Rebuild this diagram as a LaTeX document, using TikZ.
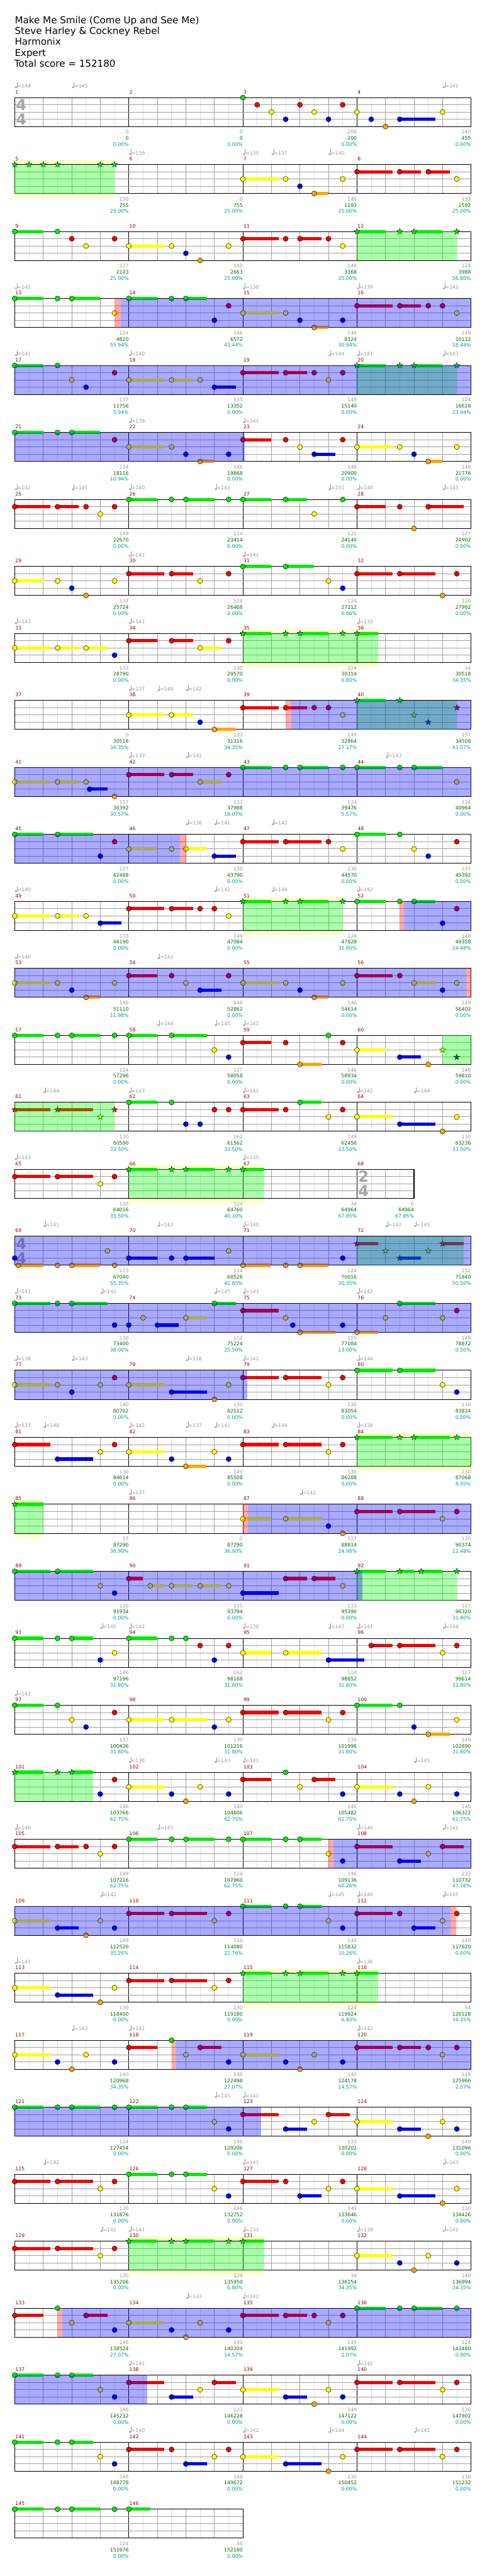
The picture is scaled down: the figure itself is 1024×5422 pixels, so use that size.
\documentclass[tikz,border=0pt]{standalone}
\usepackage{fontspec}
\setmainfont{DejaVu Sans}
\usetikzlibrary{shapes.geometric}
\definecolor{lc0}{RGB}{0,235,0}
\definecolor{lc1}{RGB}{240,0,0}
\definecolor{lc2}{RGB}{255,255,0}
\definecolor{lc3}{RGB}{0,0,240}
\definecolor{lc4}{RGB}{255,165,0}
\definecolor{tgrey}{RGB}{150,150,150}
\definecolor{tgreen}{RGB}{0,100,0}
\definecolor{tteal}{RGB}{0,150,150}
\definecolor{mred}{RGB}{140,0,0}
\definecolor{lgrid}{RGB}{225,225,225}
\definecolor{bgrid}{RGB}{160,160,160}
\definecolor{spyel}{RGB}{255,255,204}
\definecolor{tsg}{RGB}{165,165,165}
\tikzset{
 rowat/.style={shift={(31,{205.3+141*(#1-1)})},x=22.5pt},
 small/.style={inner sep=0pt,font=\fontsize{7.7pt}{8pt}\selectfont},
 mnum/.style={small,anchor=base west,text=mred},
 lgrey/.style={small,anchor=base east,text=tgrey},
 lgreen/.style={small,anchor=base east,text=tgreen},
 lteal/.style={small,anchor=base east,text=tteal},
 tempo/.style={small,anchor=base west,text=tgrey},
 tsig/.style={inner sep=0pt,font=\fontsize{24pt}{24pt}\selectfont\bfseries,text=tsg},
 title/.style={inner sep=0pt,anchor=base west,font=\fontsize{15pt}{18pt}\selectfont},
 starnote/.style={star,star points=5,star point ratio=2.4,inner sep=0pt,minimum size=9.8pt,draw=black,line width=0.4pt},
}
\newcommand\YB[2]{\fill[spyel] (#1,-10) rectangle (#2,71);}
\newcommand\SP[2]{\fill[green,opacity=0.333] (#1,0) rectangle (#2,61);}
\newcommand\OD[2]{\fill[blue,opacity=0.333] (#1,0) rectangle (#2,61);}
\newcommand\RM[2]{\fill[red,opacity=0.333] (#1,0) rectangle (#2,61);}
\newcommand\Staff[1]{%
  \fill[white] (0,0) rectangle (#1,61);
  \pgfmathtruncatemacro\nlast{#1-1}%
  \foreach \vi in {1,...,\nlast}{%
    \pgfmathtruncatemacro\rr{mod(\vi,8)}%
    \ifnum\rr=0 \draw[black,line width=0.5pt] (\vi,0) -- (\vi,61);%
    \else\ifodd\vi \draw[lgrid,line width=0.5pt] (\vi,0) -- (\vi,61);%
    \else \draw[bgrid,line width=0.6pt] (\vi,0) -- (\vi,61);\fi\fi}%
  \foreach \yy in {15.25,30.5,45.75}{\draw[bgrid,line width=0.9pt] (0,\yy) -- (#1,\yy);}%
  \draw[black,line width=1pt] (0,0) rectangle (#1,61);%
}
\newcommand\TS[3]{\node[tsig] at ([xshift=10.4pt]#1,15.3) {#2};\node[tsig] at ([xshift=10.4pt]#1,46) {#3};}
\newcommand\NoteDraw[4]{%
  \pgfmathsetmacro\ly{#2==4 ? 61 : #2*15.25}%
  \ifdim #3pt>#1pt \fill[lc#2] (#1,\ly-3.4) rectangle (#3,\ly+3.4);\fi
  \if n#4 \filldraw[fill=lc#2,draw=black,line width=0.45pt] (#1,\ly) circle[radius=4pt];%
  \else \node[starnote,fill=lc#2] at (#1,\ly) {};\fi}
\newcommand\Notes[1]{\foreach \nP/\nL/\nE in {#1}{\NoteDraw{\nP}{\nL}{\nE}{n}}}
\newcommand\Stars[1]{\foreach \nP/\nL/\nE in {#1}{\NoteDraw{\nP}{\nL}{\nE}{s}}}
\newcommand\Tempos[1]{\foreach \tP/\tV in {#1}{%
  \fill[tgrey] ([xshift=1.9pt]\tP,-21.5) ellipse[x radius=1.9pt,y radius=1.4pt];
  \draw[tgrey,line width=0.5pt] ([xshift=3.6pt]\tP,-21.5) -- ([xshift=3.6pt]\tP,-32);
  \node[tempo] at ([xshift=4pt]\tP,-20.5) {=\tV};}}
\newcommand\LabelOne[6]{%
  \node[mnum] at ([xshift=0.8pt]#1,-8) {#3};
  \node[lgrey] at (#2,76.5) {#4};
  \node[lgreen] at (#2,89.3) {#5};
  \node[lteal] at (#2,102.3) {#6\%};}
\newcommand\Labels[2]{\foreach \lG/\lS/\lQ [count=\lj from 0] in {#2}{%
  \pgfmathtruncatemacro\mn{#1+\lj}\pgfmathtruncatemacro\xa{8*\lj}\pgfmathtruncatemacro\xb{8*\lj+8}%
  \LabelOne{\xa}{\xb}{\mn}{\lG}{\lS}{\lQ}}}
\begin{document}
\begin{tikzpicture}[x=0.75pt,y=-0.75pt]
\fill[white] (0,0) rectangle (1024,5422);
\useasboundingbox (0,0) rectangle (1024,5422);
\node[title] (t1) at (31,49.3) {Make Me Smile (Come Up and See Me)};
\node[title] (t2) at (31,72.3) {Steve Harley \& Cockney Rebel};
\node[title] (t3) at (31,95.3) {Harmonix};
\node[title] (t4) at (31,118.3) {Expert};
\node[title] (t5) at (30,141.3) {Total score = 152180};
% row 1
\begin{scope}[rowat=1]
\Staff{32}\TS{0}{4}{4}
\Notes{16/0/0,17/1/0,18/2/0,19/3/0,20/1/0,21/2/0,22/3/0,23/1/0,24/2/0,25/3/0,26/4/0,27/3/29.5,30/2/0}
\Tempos{0/148,4/145,30/141}
\Labels{1}{0/0/0.00,0/0/0.00,200/200/0.00,140/455/0.00}
\end{scope}
% row 2
\begin{scope}[rowat=2]
\YB{0}{7}\Staff{32}
\Stars{0/0/0,1/0/0,2/0/0,3/0/0,6/0/0,7/0/0}
\Notes{16/2/18.5,19/2/0,20/3/0,21/4/22,23/2/0,24/1/26.5,27/1/28.5,29/1/30.5,31/2/0}
\SP{0}{7}
\Tempos{8/139,16/135,18/137,22/140}
\Labels{5}{150/755/25.00,0/755/25.00,146/1193/25.00,133/1592/25.00}
\end{scope}
% row 3
\begin{scope}[rowat=3]
\Staff{32}
\Notes{0/0/2,3/0/0,4/1/0,5/2/0,7/1/0,8/2/10.5,11/2/0,12/3/0,13/4/0,15/2/0,16/1/18.5,19/1/0,20/1/21.5,22/1/0,23/2/0}
\Stars{24/0/26,27/0/0,28/0/30,31/0/0}
\SP{24}{31}
\Labels{9}{137/2103/25.00,140/2663/25.00,149/3368/25.00,124/3988/56.80}
\end{scope}
% row 4
\begin{scope}[rowat=4]
\Staff{32}
\Notes{0/0/2,3/0/0,4/0/6,7/2/0,8/0/10,11/0/0,12/0/13.5,14/3/0,15/1/0,16/2/18.5,19/2/0,20/3/0,21/4/22,23/3/0,24/1/26.5,27/1/28.5,29/1/0,30/1/0,31/2/0}
\RM{7}{7.45}\OD{7.45}{32}
\Tempos{0/142,16/138,24/139,30/142}
\Labels{13}{124/4820/55.94,146/6572/43.44,146/8324/30.94,149/10112/18.44}
\end{scope}
% row 5
\begin{scope}[rowat=5]
\Staff{32}
\Notes{0/0/2,3/0/0,4/2/0,5/3/0,7/1/0,8/2/10.5,11/2/12.5,13/2/0,14/3/15.5,16/1/18.5,19/1/20.5,21/1/0,22/2/0,23/1/0}
\Stars{24/0/26,27/0/0,28/0/30,31/0/0}
\SP{24}{31}\OD{0}{32}
\Tempos{0/141,8/140,22/144,24/141,30/143}
\Labels{17}{137/11756/5.94,133/13352/0.00,149/15140/0.00,124/16628/23.44}
\end{scope}
% row 6
\begin{scope}[rowat=6]
\Staff{32}
\Notes{0/0/2,3/0/0,4/0/6,7/1/0,8/2/10.5,11/2/0,12/3/0,13/4/14,15/3/0,16/1/18,19/1/0,20/2/0,21/3/22.5,23/1/0,24/2/26.5,27/2/0,28/3/0,29/4/30,31/2/0}
\OD{0}{16.15}
\Tempos{8/139,16/141}
\Labels{21}{124/18116/10.94,146/19868/0.00,146/20900/0.00,146/21776/0.00}
\end{scope}
% row 7
\begin{scope}[rowat=7]
\Staff{32}
\Notes{0/1/2.5,3/1/4.5,5/1/0,6/2/0,7/1/0,8/0/10,11/0/0,12/0/14,15/0/0,16/0/18,19/0/20.5,21/2/0,23/0/0,24/1/26,27/1/0,28/4/0,29/1/31.5}
\Tempos{0/142,4/145,8/140,14/141,22/151,24/140,30/143}
\Labels{25}{149/22670/0.00,124/23414/0.00,121/24140/0.00,127/24902/0.00}
\end{scope}
% row 8
\begin{scope}[rowat=8]
\Staff{32}
\Notes{0/2/2,3/2/0,4/3/0,5/4/0,7/2/0,8/1/10.5,11/1/12.5,13/2/0,15/1/0,16/0/18,19/0/21,22/2/0,23/3/0,24/1/26.5,27/1/29.5,30/4/0,31/1/0}
\Tempos{8/142,16/141}
\Labels{29}{137/25724/0.00,124/26468/0.00,124/27212/0.00,130/27992/0.00}
\end{scope}
% row 9
\begin{scope}[rowat=9]
\YB{16}{25.5}\Staff{32}
\Notes{0/2/2.5,3/2/4.5,5/2/6.5,7/3/0,8/1/10,11/1/12.5,13/2/14.5,15/1/0}
\Stars{16/0/18,19/0/0,20/0/22,23/0/0,24/0/25.5}
\SP{16}{25.5}
\Tempos{0/143,8/141,24/133}
\Labels{33}{133/28790/0.00,130/29570/0.00,124/30314/6.80,34/30518/34.35}
\end{scope}
% row 10
\begin{scope}[rowat=10]
\Staff{32}
\Notes{8/2/10.5,11/2/12.5,13/3/0,14/4/15.5,16/1/18.5,19/1/20.5,21/1/0,22/1/0,23/2/0}
\Stars{24/0/26,27/0/0,28/2/0,29/3/0,31/1/0}
\SP{24}{31}\RM{19}{19.4}\OD{19.4}{32}
\Tempos{8/137,10/140,12/142}
\Labels{37}{0/30518/34.35,133/31316/34.35,149/32864/27.17,137/34508/43.07}
\end{scope}
% row 11
\begin{scope}[rowat=11]
\Staff{32}
\Notes{0/2/2.5,3/2/4.5,5/2/0,5.25/3/6.5,7/4/0,8/1/10.5,11/1/12.5,13/2/14.5,15/1/0,16/0/18,19/0/0,20/0/22,23/0/0,24/0/26,27/0/0,28/0/30,31/2/0}
\OD{0}{32}
\Tempos{8/139,12/141,26/143}
\Labels{41}{157/36392/30.57,133/37988/18.07,124/39476/5.57,124/40964/0.00}
\end{scope}
% row 12
\begin{scope}[rowat=12]
\Staff{32}
\Notes{0/0/2,3/0/5.5,6/3/0,7/1/0,8/2/10,11/2/0,12/2/13.5,14/3/15.5,16/1/18.5,19/1/21.5,22/1/0,23/2/0,24/0/26,27/0/0,28/2/0,29/3/0,31/1/0}
\OD{0}{11.58}\RM{11.58}{12.02}
\Tempos{12/138,14/141,18/142}
\Labels{45}{127/42488/0.00,130/43790/0.00,130/44570/0.00,137/45392/0.00}
\end{scope}
% row 13
\begin{scope}[rowat=13]
\YB{16}{23}\Staff{32}
\Notes{0/2/2.5,3/2/4.5,5/2/0,6/3/7.5,8/1/10.5,11/1/12.5,13/1/0,14/1/0,15/2/0,24/0/26,27/0/0,28/0/29.5,30/3/0,31/1/0}
\Stars{16/0/18,19/0/0,20/0/22,23/0/0}
\SP{16}{23}\RM{27}{27.3}\OD{27.3}{32}
\Tempos{0/140,14/142,18/144,24/142}
\Labels{49}{133/46190/0.00,149/47084/0.00,124/47828/31.80,146/49358/24.48}
\end{scope}
% row 14
\begin{scope}[rowat=14]
\Staff{32}
\Notes{0/2/2.5,3/2/0,4/3/0,5/4/6,7/2/0,8/1/10,11/1/0,12/2/0,13/3/14.5,15/1/0,16/2/18.5,19/2/0,20/3/0,21/4/22,23/2/0,24/1/26.5,27/1/0,28/2/29.5,30/3/0,31/2/0}
\OD{0}{31.65}\RM{31.65}{32}
\Tempos{0/140,10/142}
\Labels{53}{146/51110/11.98,146/52862/0.00,146/54614/0.00,149/56402/0.00}
\end{scope}
% row 15
\begin{scope}[rowat=15]
\Staff{32}
\Notes{0/0/2,3/0/0,4/0/6,7/0/0,8/0/10,11/0/13.5,14/2/0,15/3/0,16/1/18,19/1/0,20/4/21.5,22/0/0,23/1/0,24/2/26,27/3/28.5,29/4/0}
\Stars{30/2/0,31/3/0}
\SP{30}{32}
\Tempos{10/144,14/145,16/142}
\Labels{57}{124/57296/0.00,127/58058/0.00,146/58934/0.00,146/59810/0.00}
\end{scope}
% row 16
\begin{scope}[rowat=16]
\Staff{32}
\Stars{0/1/2.5,3/1/5.5,6/2/0,7/1/0}
\Notes{8/0/10,11/0/0,12/3/0,13/3/0,14/1/0,15/1/0,16/1/18.5,19/1/0,20/0/21.5,22/2/0,23/1/0,24/2/26.5,27/3/29.5,30/4/0,31/2/0}
\SP{0}{7}
\Tempos{2/144,8/143,16/141,24/142,28/144}
\Labels{61}{130/60590/33.50,162/61562/33.50,149/62456/33.50,130/63236/33.50}
\end{scope}
% row 17
\begin{scope}[rowat=17]
\YB{8}{17.5}\Staff{28}\TS{24}{2}{4}
\Notes{0/1/2.5,3/1/5.5,6/2/0,7/1/0}
\Stars{8/0/10,11/0/0,12/0/14,15/0/0,16/0/17.5}
\SP{8}{17.5}
\Tempos{0/143,16/135}
\Labels{65}{130/64016/33.50,124/64760/40.30,34/64964/67.85}
\LabelOne{24}{28}{68}{0}{64964}{67.85}
\end{scope}
% row 18
\begin{scope}[rowat=18]
\Staff{32}\TS{0}{4}{4}
\Notes{0/3/0,0.25/4/2,3/4/0,4/4/6,6.5/2/0,7/4/0,8/3/10,11/3/0,12/3/14,15/2/0,16/4/18,19/4/0,20/4/22,23/3/0}
\Stars{24/1/25.5,26/2/0,27/3/28.5,29/2/0,30/1/31.5}
\SP{24}{31.5}\OD{0}{32}
\Tempos{2/141,10/143,16/140,26/142,28/145}
\Labels{69}{173/67040/55.35,124/68528/42.85,124/70016/30.35,152/71840/50.50}
\end{scope}
% row 19
\begin{scope}[rowat=19]
\Staff{32}
\Notes{0/0/2.5,3/0/0,4/0/6.5,7/3/0,8/3/0,9/2/0,10/3/11.5,12/2/13.5,14/0/15.5,16/1/18.5,19/2/0,19.5/3/0,20/4/22.5,23/3/0,24/4/25.5,26/2/0,27/0/29.5,30/2/0,31/1/0}
\OD{0}{32}
\Tempos{0/141,6/142,14/145,16/143,24/142}
\Labels{73}{130/73400/38.00,152/75224/25.50,155/77084/13.00,149/78872/0.50}
\end{scope}
% row 20
\begin{scope}[rowat=20]
\Staff{32}
\Notes{0/2/2.5,3/2/0,4/3/0,6/2/0,7/1/0,8/2/10.5,11/3/13.5,14/4/0,15/2/0,16/1/18.5,19/1/21.5,22/2/0,23/1/0,24/0/26.5,27/0/29.5,30/2/0,31/3/0}
\OD{0}{16.3}
\Tempos{0/138,4/143,12/138,16/142,24/144}
\Labels{77}{140/80702/0.00,130/82112/0.00,130/83054/0.00,130/83834/0.00}
\end{scope}
% row 21
\begin{scope}[rowat=21]
\YB{24}{32}\Staff{32}
\Notes{0/1/2.5,3/3/5.5,6/2/0,7/1/0,8/2/10.5,11/3/0,12/4/13.5,14/2/0,15/3/0,16/1/18.5,19/1/21.5,22/2/0,23/1/0}
\Stars{24/0/26.5,27/0/0,28/0/30.5,31/0/0}
\SP{24}{32}
\Tempos{0/133,2/148,8/142,12/137,14/141,18/144,24/138}
\Labels{81}{130/84614/0.00,149/85508/0.00,130/86288/0.00,130/87068/8.50}
\end{scope}
% row 22
\begin{scope}[rowat=22]
\YB{0}{2}\Staff{32}
\Stars{0/0/2}
\Notes{16/2/18,19/2/21.5,22/3/0,23/4/0,24/1/26.5,27/1/29.5,30/2/0,31/1/0}
\SP{0}{2}\RM{16}{16.33}\OD{16.33}{32}
\Tempos{8/137,20/141}
\Labels{85}{37/87290/36.90,0/87290/36.90,127/88814/24.98,130/90374/12.48}
\end{scope}
% row 23
\begin{scope}[rowat=23]
\Staff{32}
\Notes{0/0/2.5,3/0/5.5,6/2/0,7/3/0,8/1/9,9.5/2/10.5,11/2/12.5,13/2/14.5,15/2/0,16/3/18.5,19/1/20.5,21/1/22.5,23/2/0}
\Stars{24/0/26,27/0/28,28.5/0/30,31/0/0}
\SP{24}{31}\OD{0}{24.4}
\Labels{89}{130/91934/0.00,155/93794/0.00,133/95390/0.00,127/96320/31.80}
\end{scope}
% row 24
\begin{scope}[rowat=24]
\Staff{32}
\Notes{0/0/2,3/0/0,4/0/5.5,6/3/0,7/2/0,8/0/10,11/0/0,12/0/0,13/1/0,14/3/0,15/1/0,16/2/18,19/2/21.5,22/3/24.5,25/1/26.5,27/1/29.5,30/2/0,31/1/0}
\Tempos{6/145,8/142,16/138,22/147,24/141,30/144}
\Labels{93}{146/97196/31.80,162/98168/31.80,114/98852/31.80,127/99614/31.80}
\end{scope}
% row 25
\begin{scope}[rowat=25]
\Staff{32}
\Notes{0/0/2,3/0/0,4/2/0,5/3/0,7/1/0,8/2/10.5,11/2/13.5,14/3/0,15/2/0,16/1/18.5,19/1/21.5,22/2/0,23/1/0,24/0/26.5,27/0/0,28/3/0,29/4/30.5,31/2/0}
\Tempos{0/142}
\Labels{97}{137/100436/31.80,130/101216/31.80,130/101996/31.80,149/102890/31.80}
\end{scope}
% row 26
\begin{scope}[rowat=26]
\Staff{32}
\Stars{0/0/2,3/0/0,4/0/5.5}
\Notes{6/3/0,7/1/0,8/2/10.5,11/3/0,12/4/0,13/2/0,15/3/0,16/1/18,19/0/0,20/2/0,21/1/22.5,23/3/0,24/2/26.5,27/3/0,28/4/0,29/2/0,31/3/0}
\SP{0}{5.5}
\Tempos{8/138,14/143,16/141,28/145}
\Labels{101}{146/103766/62.75,140/104606/62.75,146/105482/62.75,140/106322/62.75}
\end{scope}
% row 27
\begin{scope}[rowat=27]
\Staff{32}
\Notes{0/1/2.5,3/1/4.5,5/1/0,6/2/0,7/1/0,8/0/10,11/0/0,12/0/14,15/0/0,16/0/18,19/0/0,20/0/21.5,22/2/0,23/3/0,24/1/26.5,27/3/28.5,29/2/0,30/1/31.5}
\RM{22}{22.37}\OD{22.37}{32}
\Tempos{0/140,10/143,24/140,30/141}
\Labels{105}{149/107216/62.75,124/107960/62.75,146/109136/60.26,133/110732/47.76}
\end{scope}
% row 28
\begin{scope}[rowat=28]
\Staff{32}
\Notes{0/2/2.5,3/3/4.5,5/4/0,6/2/0,7/3/0,8/1/10.5,11/1/13.5,14/2/0,15/1/0,16/0/18,19/0/0,20/0/21.5,22/2/0,23/3/0,24/1/26.5,27/1/0,28/3/29.5,30/2/0,31/1/0}
\OD{0}{30.56}\RM{30.56}{30.95}
\Tempos{6/142,22/145,24/140,30/145}
\Labels{109}{149/112520/35.26,130/114080/22.76,146/115832/10.26,149/117620/0.00}
\end{scope}
% row 29
\begin{scope}[rowat=29]
\YB{16}{25.5}\Staff{32}
\Notes{0/2/2.5,3/3/5.5,6/4/0,7/2/0,8/1/10.5,11/1/13.5,14/2/0,15/1/0}
\Stars{16/0/18,19/0/0,20/0/22,23/0/0,24/0/25.5}
\SP{16}{25.5}
\Tempos{0/141,24/136}
\Labels{113}{130/118400/0.00,130/119180/0.00,124/119924/6.80,34/120128/34.35}
\end{scope}
% row 30
\begin{scope}[rowat=30]
\Staff{32}
\Notes{0/2/2.5,3/3/0,4/4/0,5/2/0,7/3/0,8/1/10,11/0/0,12/2/0,13/1/14.5,15/3/0,16/2/18.5,19/3/0,20/4/0,21/2/0,23/3/0,24/1/26.5,27/1/28.5,29/1/0,30/2/0,31/1/0}
\RM{11}{11.33}\OD{11.33}{32}
\Tempos{4/143,8/141,24/142}
\Labels{117}{140/120968/34.35,146/122498/27.07,140/124178/14.57,149/125966/2.07}
\end{scope}
% row 31
\begin{scope}[rowat=31]
\Staff{32}
\Notes{0/0/2,3/0/0,4/0/6,7/0/0,8/0/10,11/0/0,12/0/13.5,14/2/0,15/3/0,16/1/18.5,19/3/20.5,21/2/0,22/1/23.5,24/2/26.5,27/3/28.5,29/4/0,30/2/0,31/3/0}
\OD{0}{17.28}
\Tempos{14/145,16/141}
\Labels{121}{124/127454/0.00,146/129206/0.00,133/130202/0.00,149/131096/0.00}
\end{scope}
% row 32
\begin{scope}[rowat=32]
\Staff{32}
\Notes{0/1/2.5,3/1/5.5,6/2/0,7/1/0,8/0/10,11/0/0,12/0/13.5,14/2/0,15/3/0,16/1/18.5,19/1/0,20/3/21.5,22/2/0,23/1/0,24/2/26.5,27/3/29.5,30/4/0,31/2/0}
\Tempos{2/142,16/141,30/143}
\Labels{125}{130/131876/0.00,146/132752/0.00,149/133646/0.00,130/134426/0.00}
\end{scope}
% row 33
\begin{scope}[rowat=33]
\YB{8}{17.5}\Staff{32}
\Notes{0/1/2.5,3/1/5.5,6/2/0,7/1/0,24/2/26.5,27/3/0,28/4/0,29/2/0,31/3/0}
\Stars{8/0/10,11/0/0,12/0/14,15/0/0,16/0/17.5}
\SP{8}{17.5}
\Tempos{6/142,8/141,16/131,24/139,30/141}
\Labels{129}{130/135206/0.00,124/135950/6.80,34/136154/34.35,140/136994/34.35}
\end{scope}
% row 34
\begin{scope}[rowat=34]
\Staff{32}
\Notes{0/1/2,3/0/0,4/2/0,5/1/6.5,7/3/0,8/2/10.5,11/3/0,12/4/0,13/2/0,15/3/0,16/1/18.5,19/1/20.5,21/1/0,22/2/0,23/1/0,24/0/26,27/0/0,28/0/30,31/0/0}
\RM{3}{3.33}\OD{3.33}{32}
\Tempos{12/143,16/142}
\Labels{133}{146/138524/27.07,140/140204/14.57,149/141992/2.07,124/143480/0.00}
\end{scope}
% row 35
\begin{scope}[rowat=35]
\Staff{32}
\Notes{0/0/2,3/0/0,4/0/5.5,6/2/0,7/3/0,8/1/10.5,11/3/12.5,13/2/0,14/1/15.5,16/2/18.5,19/3/20.5,21/4/0,22/2/0,23/3/0,24/1/26.5,27/1/29.5,30/2/0,31/1/0}
\OD{0}{9.3}
\Tempos{8/141,24/142}
\Labels{137}{146/145232/0.00,133/146228/0.00,149/147122/0.00,130/147902/0.00}
\end{scope}
% row 36
\begin{scope}[rowat=36]
\Staff{32}
\Notes{0/0/2,3/0/0,4/0/5.5,6/2/0,7/3/0,8/1/10.5,11/1/0,12/3/13.5,14/2/0,15/1/0,16/2/18.5,19/3/21.5,22/4/0,23/2/0,24/1/26.5,27/1/29.5,30/2/0,31/1/0}
\Tempos{8/140,16/142,22/144,28/141}
\Labels{141}{146/148778/0.00,149/149672/0.00,130/150452/0.00,130/151232/0.00}
\end{scope}
% row 37
\begin{scope}[rowat=37]
\Staff{16}
\Notes{0/0/2,3/0/0,4/0/6,7/0/0,8/0/9.5}
\Labels{145}{124/151976/0.00,34/152180/0.00}
\end{scope}
\end{tikzpicture}
\end{document}
